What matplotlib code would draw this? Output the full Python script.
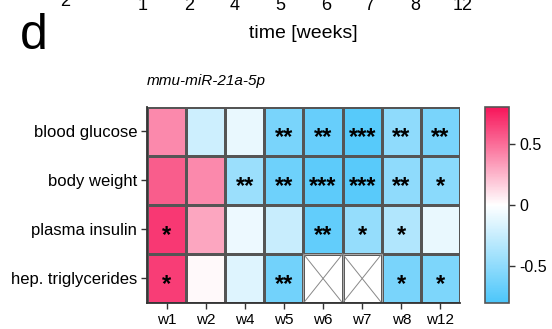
import numpy as np
import matplotlib.pyplot as plt
from matplotlib.colors import LinearSegmentedColormap

plt.rcParams['font.family'] = ['Liberation Sans', 'DejaVu Sans']

# data
weeks = ['w1', 'w2', 'w4', 'w5', 'w6', 'w7', 'w8', 'w12']
params = ['blood glucose', 'body weight', 'plasma insulin', 'hep. triglycerides']
top_ticks = ['1', '2', '4', '5', '6', '7', '8', '12']

blood_glucose = [0.40, -0.22, -0.10, -0.60, -0.68, -0.75, -0.50, -0.60]
body_weight = [0.55, 0.40, -0.45, -0.65, -0.72, -0.74, -0.50, -0.52]
plasma_insulin = [0.68, 0.30, -0.08, -0.25, -0.70, -0.47, -0.35, -0.10]
hep_trig = [0.66, 0.02, -0.15, -0.63, np.nan, np.nan, -0.60, -0.58]

stars_glucose = ['', '', '', '**', '**', '***', '**', '**']
stars_weight = ['', '', '**', '**', '***', '***', '**', '*']
stars_insulin = ['*', '', '', '', '**', '*', '*', '']
stars_trig = ['*', '', '', '**', '', '', '*', '*']

vals = np.array([blood_glucose, body_weight, plasma_insulin, hep_trig])
stars = [stars_glucose, stars_weight, stars_insulin, stars_trig]

cmap = LinearSegmentedColormap.from_list('bwp', ['#4cc6fa', '#ffffff', '#f7155a'])

fig = plt.figure(figsize=(5.52, 3.29), dpi=100)
ax = fig.add_axes([0.2663, 0.079, 0.567, 0.596])
cax = fig.add_axes([0.8786, 0.079, 0.0435, 0.596])

masked = np.ma.masked_invalid(vals)
mesh = ax.pcolormesh(masked, cmap=cmap, vmin=-0.8, vmax=0.8,
                     edgecolors='#555555', linewidth=0.8)
ax.set_xlim(0, len(weeks))
ax.set_ylim(len(params), 0)

# crossed boxes where no data
for i, j in zip(*np.where(np.isnan(vals))):
    ax.plot([j, j + 1], [i, i + 1], color='#888888', lw=0.7)
    ax.plot([j, j + 1], [i + 1, i], color='#888888', lw=0.7)
    ax.add_patch(plt.Rectangle((j, i), 1, 1, fill=False, ec='#aaaaaa', lw=0.8))

for i in range(len(params)):
    for j in range(len(weeks)):
        if stars[i][j]:
            ax.text(j + 0.5, i + 0.62, stars[i][j], ha='center', va='center',
                    fontsize=17, fontweight='bold', color='black')

ax.set_xticks(np.arange(len(weeks)) + 0.5)
ax.set_xticklabels(weeks, fontsize=11)
ax.set_yticks(np.arange(len(params)) + 0.5)
ax.set_yticklabels(params, fontsize=12)
ax.tick_params(length=4, width=1, color='#333333', pad=3)
for s in ['top', 'right']:
    ax.spines[s].set_visible(False)
for s in ['left', 'bottom']:
    ax.spines[s].set_color('#333333')
    ax.spines[s].set_linewidth(1.3)

ax.text(0, -0.38, 'mmu-miR-21a-5p', fontsize=11, style='italic', ha='left', va='bottom')

cb = fig.colorbar(mesh, cax=cax, ticks=[0.5, 0, -0.5])
cb.ax.set_yticklabels(['0.5', '0', '-0.5'], fontsize=11.5)
cb.outline.set_edgecolor('#555555')
cb.outline.set_linewidth(1.2)
cb.ax.tick_params(length=4, width=1, color='#333333')

# remnants of the panel above (cut off at the top edge, as in the source)
x_top = [143, 189, 235, 280, 326, 369, 415, 463]
for xp, lab in zip(x_top, top_ticks):
    fig.text(xp / 552, 1 - 5 / 329, lab, ha='center', va='center', fontsize=13)
fig.text(65 / 552, 1 - 1 / 329, '2', ha='center', va='center', fontsize=13)
fig.text(303 / 552, 1 - 33 / 329, 'time [weeks]', ha='center', va='center', fontsize=14)
fig.text(34 / 552, 1 - 36 / 329, 'd', ha='center', va='center', fontsize=36)

fig.savefig('out.png', dpi=100)
